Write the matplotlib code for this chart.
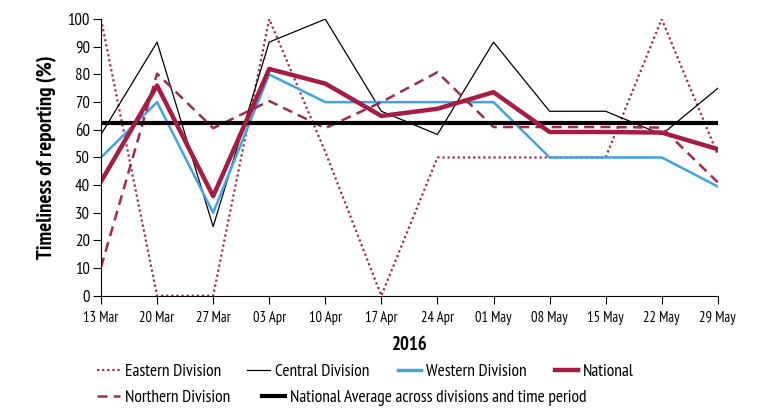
import matplotlib
matplotlib.use("Agg")
import matplotlib.pyplot as plt
from matplotlib.lines import Line2D

plt.rcParams["font.family"] = ["PT Sans Narrow", "DejaVu Sans"]

dates = ["13 Mar", "20 Mar", "27 Mar", "03 Apr", "10 Apr", "17 Apr", "24 Apr",
         "01 May", "08 May", "15 May", "22 May", "29 May"]
eastern = [100, 0, 0, 100, 52, 0, 50, 50, 50, 50, 100, 51]
central = [58.3, 91.7, 25, 91.7, 100, 66.7, 58.3, 91.7, 66.7, 66.7, 58.3, 75]
western = [50, 70, 30, 80, 70, 70, 70, 70, 50, 50, 50, 39.5]
national = [41.3, 76, 36, 82, 76.7, 65, 67.6, 73.6, 59.2, 59.2, 59, 53]
northern = [10.3, 80.3, 60.6, 70.4, 60.6, 70, 80.8, 61, 61, 61, 60.8, 41]
nat_avg = 62.4

fig = plt.figure(figsize=(7.71, 4.16), dpi=100)
ax = fig.add_axes([0.131, 0.289, 0.800, 0.665])
x = list(range(len(dates)))

c_east = "#9B2A5A"
c_north = "#A02A50"
c_nat = "#A51C45"
c_blue = "#3FA4E6"

ax.plot(x, eastern, color=c_east, lw=1.6, ls=(0, (1, 1.3)), label="Eastern Division")
ax.plot(x, central, color="black", lw=0.9, label="Central Division")
ax.plot(x, western, color=c_blue, lw=1.8, label="Western Division")
ax.plot(x, northern, color=c_north, lw=1.8, ls=(0, (4, 2.5)), label="Northern Division")
ax.axhline(nat_avg, color="black", lw=3, label="National Average across divisions and time period")
ax.plot(x, national, color=c_nat, lw=3.2, label="National")

ax.set_xlim(0, len(dates) - 1)
ax.set_ylim(0, 100)
ax.set_xticks(x)
ax.set_xticklabels(dates, fontsize=10.5)
ax.set_yticks(range(0, 101, 10))
ax.tick_params(axis="y", labelsize=12, direction="out", length=6, width=0.8, pad=2)
ax.tick_params(axis="x", direction="out", length=6, width=0.8, pad=5)
for s in ["top", "right"]:
    ax.spines[s].set_visible(False)
for s in ["left", "bottom"]:
    ax.spines[s].set_linewidth(0.8)
ax.set_ylabel("Timeliness of reporting (%)", fontsize=15, fontweight="bold")
ax.yaxis.set_label_coords(-0.071, 0.5)
ax.set_xlabel("2016", fontsize=13.5, fontweight="bold")
ax.xaxis.set_label_coords(0.5, -0.145)

entries = [
    (Line2D([], [], color=c_east, lw=1.6, ls=(0, (1, 1.3))), "Eastern Division", 97, 372),
    (Line2D([], [], color="black", lw=0.9), "Central Division", 247, 372),
    (Line2D([], [], color=c_blue, lw=2.5), "Western Division", 398, 372),
    (Line2D([], [], color=c_nat, lw=3.2), "National", 555, 372),
    (Line2D([], [], color=c_north, lw=1.8, ls=(0, (4, 2.5))), "Northern Division", 97, 398),
    (Line2D([], [], color="black", lw=3), "National Average across divisions and time period", 262, 398),
]
W, H = 771, 416
for h, lab, px, py in entries:
    leg = fig.legend([h], [lab], loc="center left", bbox_to_anchor=(px / W, 1 - py / H),
                     frameon=False, fontsize=12.5, handlelength=1.3, handletextpad=0.3,
                     borderpad=0, borderaxespad=0)

fig.savefig("out.png", dpi=100)
